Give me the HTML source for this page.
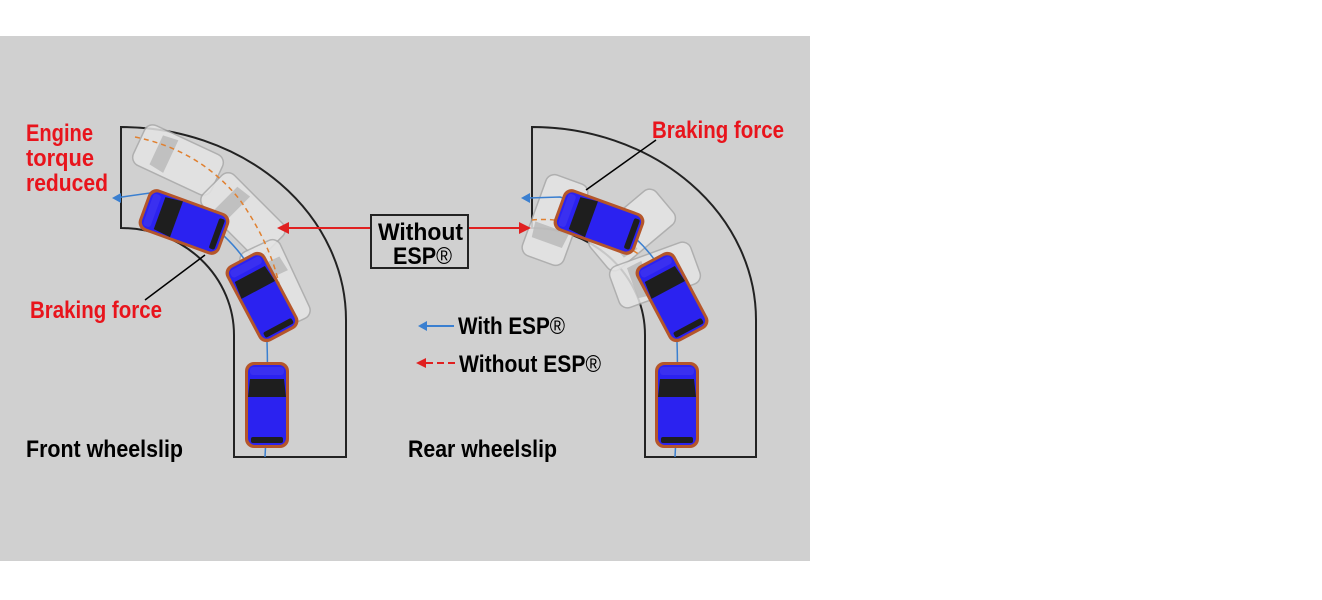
<!DOCTYPE html>
<html><head><meta charset="utf-8"><style>
html,body{margin:0;padding:0;background:#fff;width:1322px;height:600px;overflow:hidden}
svg{display:block}
text{font-family:"Liberation Sans",sans-serif;font-weight:bold}
</style></head><body>
<svg width="1322" height="600" viewBox="0 0 1322 600">
<defs>
<g id="car">
 <rect x="-43" y="-22" width="86" height="44" rx="9" fill="#b5562a"/>
 <rect x="-40" y="-19" width="80" height="38" rx="7" fill="#2b22f0"/>
 <path d="M8,-19 L26,-17 L26,17 L8,19 Z" fill="#1e1e1e"/>
 <rect x="-38" y="-16" width="6" height="32" rx="2" fill="#1e1e1e"/>
 <rect x="30" y="-17" width="8" height="34" rx="3" fill="#3a30f0"/>
</g>
<g id="ghost">
 <rect x="-43" y="-22" width="86" height="44" rx="9" fill="#e4e4e4" stroke="#aaa" stroke-width="1.5" opacity="0.85"/>
 <path d="M8,-18 L24,-16 L24,16 L8,18 Z" fill="#b8b8b8" opacity="0.8"/>
</g>
</defs>
<rect x="0" y="36" width="810" height="525" fill="#d0d0d0"/>

<path d="M121,127 A225,193 0 0 1 346,320 L346,457 L234,457 L234,335 A113,107 0 0 0 121,228 Z" fill="none" stroke="#222" stroke-width="2"/>
<path d="M532,127 A224,193 0 0 1 756,320 L756,457 L645,457 L645,335 A113,107 0 0 0 532,228 Z" fill="none" stroke="#222" stroke-width="2"/>

<!-- left ghosts -->
<use href="#ghost" transform="translate(178,160) rotate(205)"/>
<use href="#ghost" transform="translate(243,215) rotate(225)"/>
<use href="#ghost" transform="translate(275,285) rotate(245)"/>
<path d="M135,137 Q200,150 240,200 Q275,250 282,300" fill="none" stroke="#e08030" stroke-width="1.5" stroke-dasharray="5,4"/>
<path d="M115,198 L150,193 Q240,225 265,300 Q270,370 265,457" fill="none" stroke="#3a7fd0" stroke-width="1.5"/>
<path d="M112,198 l9,-5 l0,10 z" fill="#3a7fd0"/>
<use href="#car" transform="translate(184,222) rotate(200)"/>
<use href="#car" transform="translate(262,297) rotate(-118)"/>
<use href="#car" transform="translate(267,405) rotate(-90)"/>
<line x1="205" y1="255" x2="145" y2="300" stroke="#000" stroke-width="1.5"/>

<!-- right ghosts -->
<use href="#ghost" transform="translate(555,220) rotate(110)"/>
<use href="#ghost" transform="translate(632,230) rotate(140)"/>
<use href="#ghost" transform="translate(655,275) rotate(160)"/>
<path d="M532,220 Q580,215 640,255" fill="none" stroke="#e08030" stroke-width="1.5" stroke-dasharray="5,4"/>
<path d="M528,198 L560,197 Q650,225 675,300 Q680,370 675,457" fill="none" stroke="#3a7fd0" stroke-width="1.5"/>
<path d="M521,198 l9,-5 l0,10 z" fill="#3a7fd0"/>
<use href="#car" transform="translate(599,222) rotate(200)"/>
<use href="#car" transform="translate(672,297) rotate(-118)"/>
<use href="#car" transform="translate(677,405) rotate(-90)"/>
<line x1="586" y1="190" x2="656" y2="140" stroke="#000" stroke-width="1.5"/>

<line x1="288" y1="228" x2="371" y2="228" stroke="#e02020" stroke-width="2"/>
<path d="M277,228 l12,-6 l0,12 z" fill="#e02020"/>
<line x1="468" y1="228" x2="520" y2="228" stroke="#e02020" stroke-width="2"/>
<path d="M531,228 l-12,-6 l0,12 z" fill="#e02020"/>
<rect x="371" y="215" width="97" height="53" fill="none" stroke="#222" stroke-width="2"/>
<text x="378" y="240" font-size="24" textLength="85" lengthAdjust="spacingAndGlyphs" fill="#000">Without</text>
<text x="393" y="264" font-size="24" textLength="59" lengthAdjust="spacingAndGlyphs" fill="#000">ESP<tspan font-weight="normal">®</tspan></text>

<line x1="425" y1="326" x2="454" y2="326" stroke="#3a7fd0" stroke-width="2"/>
<path d="M418,326 l9,-5 l0,10 z" fill="#3a7fd0"/>
<text x="458" y="334" font-size="24" textLength="107" lengthAdjust="spacingAndGlyphs" fill="#000">With ESP<tspan font-weight="normal">®</tspan></text>
<line x1="426" y1="363" x2="456" y2="363" stroke="#e02020" stroke-width="2" stroke-dasharray="7,4"/>
<path d="M416,363 l10,-5 l0,10 z" fill="#e02020"/>
<text x="459" y="372" font-size="24" textLength="142" lengthAdjust="spacingAndGlyphs" fill="#000">Without ESP<tspan font-weight="normal">®</tspan></text>

<text x="26" y="141" font-size="24" textLength="67" lengthAdjust="spacingAndGlyphs" fill="#e8141c">Engine</text>
<text x="26" y="166" font-size="24" textLength="68" lengthAdjust="spacingAndGlyphs" fill="#e8141c">torque</text>
<text x="26" y="191" font-size="24" textLength="82" lengthAdjust="spacingAndGlyphs" fill="#e8141c">reduced</text>
<text x="30" y="318" font-size="24" textLength="132" lengthAdjust="spacingAndGlyphs" fill="#e8141c">Braking force</text>
<text x="652" y="138" font-size="24" textLength="132" lengthAdjust="spacingAndGlyphs" fill="#e8141c">Braking force</text>
<text x="26" y="457" font-size="24" textLength="157" lengthAdjust="spacingAndGlyphs" fill="#000">Front wheelslip</text>
<text x="408" y="457" font-size="24" textLength="149" lengthAdjust="spacingAndGlyphs" fill="#000">Rear wheelslip</text>
</svg>
</body></html>
